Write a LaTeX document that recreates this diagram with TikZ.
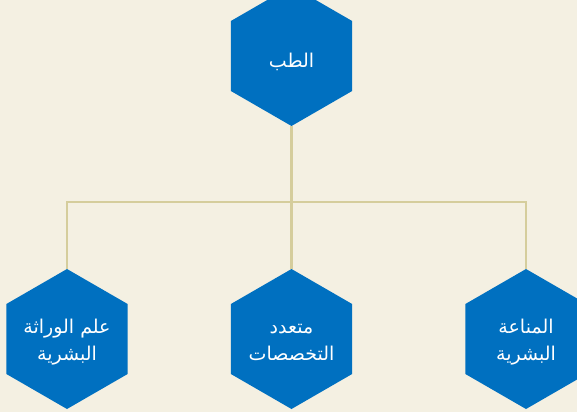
\documentclass[tikz,border=0pt]{standalone}
\usepackage{fontspec}
\usetikzlibrary{shapes.geometric}
\newfontfamily\arabicfont[Script=Arabic]{DejaVu Sans}
\TeXXeTstate=1
\definecolor{bgc}{HTML}{F4F0E2}
\definecolor{hexblue}{HTML}{0070C0}
\definecolor{linec}{HTML}{D5CD9C}
\begin{document}
\begin{tikzpicture}[x=1pt,y=-1pt,
  hexnode/.style={regular polygon, regular polygon sides=6, shape border rotate=30,
    minimum size=140pt, inner sep=0pt, fill=hexblue, draw=none},
  hextext/.style={text=white, inner sep=0pt, align=center,
    font=\arabicfont\fontsize{19}{27}\selectfont},
  conn/.style={draw=linec, line width=2.5pt}]
\fill[bgc] (0,0) rectangle (577,412);
\useasboundingbox (0,0) rectangle (577,412);
\node[hexnode] (top) at (291.5,56) {};
\node[hexnode] (left) at (67,339) {};
\node[hexnode] (mid) at (291.5,339) {};
\node[hexnode] (right) at (526,339) {};
\node[hextext, yshift=-6pt] (toptxt) at (top.center) {\beginR الطب\endR};
\node[hextext, yshift=-3pt] (lefttxt) at (left.center) {\beginR علم الوراثة\endR\\\beginR البشرية\endR};
\node[hextext, yshift=-3pt] (midtxt) at (mid.center) {\beginR متعدد\endR\\\beginR التخصصات\endR};
\node[hextext, yshift=-3pt] (righttxt) at (right.center) {\beginR المناعة\endR\\\beginR البشرية\endR};
\coordinate (j) at (291.5,202);
\draw[conn] (top.south) -- (j);
\draw[conn] (left.north) |- (j) -| (right.north);
\draw[conn] (j) -- (mid.north);
\end{tikzpicture}
\end{document}
